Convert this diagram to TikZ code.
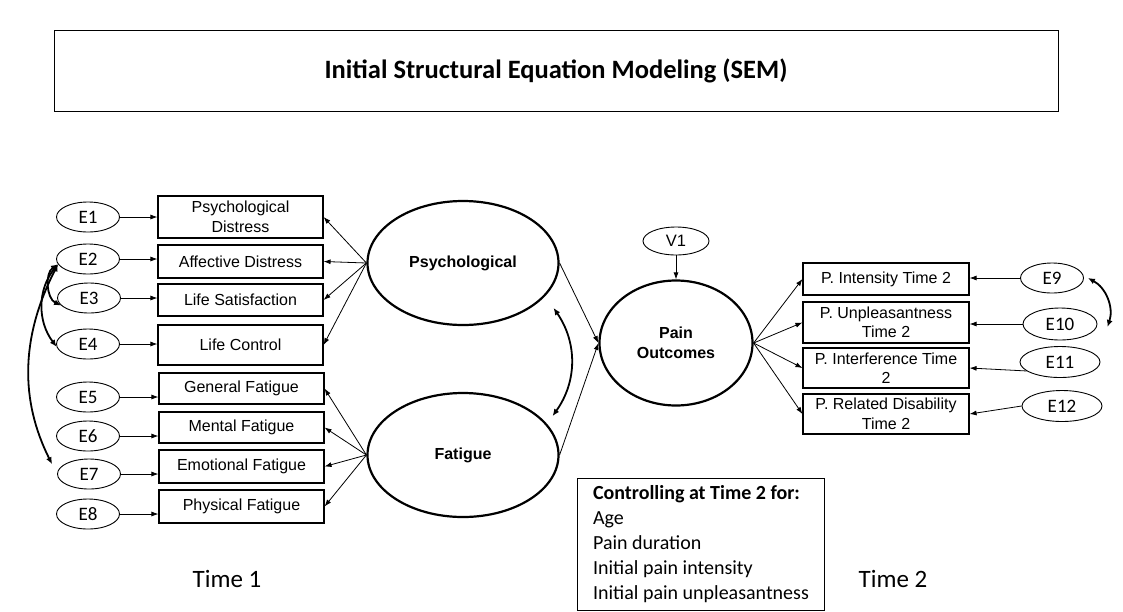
\documentclass[tikz,border=0pt]{standalone}
\usepackage{fontspec}
\usepackage{tikz}
\usetikzlibrary{arrows.meta,shapes.geometric,calc}
\newfontfamily\arialfont{Liberation Sans}
\newfontfamily\califont{Carlito}

\begin{document}
\begin{tikzpicture}
\tikzset{x={(1pt,0pt)}, y={(0pt,-1pt)}}
\tikzset{
  indic/.style={draw, line width=1.1pt, minimum width=165pt, inner sep=0pt, align=center,
    font=\arialfont\fontsize{16}{19.5}\selectfont},
  errvar/.style={draw, ellipse, line width=0.9pt, minimum width=63pt, minimum height=30pt,
    inner sep=0pt, font=\califont\fontsize{19}{22}\selectfont},
  latent/.style={draw, ellipse, line width=2.2pt, minimum width=191pt, minimum height=124pt,
    inner sep=0pt, align=center, font=\arialfont\bfseries\fontsize{16}{20}\selectfont},
  loading/.style={-{Latex[length=7pt,width=5pt]}, line width=0.8pt},
  cov/.style={{Latex[length=7pt,width=6pt]}-{Latex[length=7pt,width=6pt]}, line width=1.8pt},
}
\useasboundingbox (0,0) rectangle (1123,611);

\node[draw, line width=1pt, minimum width=1004pt, minimum height=81pt,
  font=\califont\bfseries\fontsize{26.5}{30}\selectfont] (title) at (556,70.5)
  {Initial Structural Equation Modeling (SEM)};

% Time 1 indicators
\node[indic, minimum height=42pt] (pd) at (240.5,217) {Psychological\\Distress};
\node[indic, minimum height=33pt] (ad) at (240.5,261.5) {Affective Distress};
\node[indic, minimum height=32pt] (ls) at (240.5,300) {Life Satisfaction};
\node[indic, minimum height=40pt] (lc) at (240.5,345) {Life Control};
\node[indic, minimum height=31pt] (gf) at (241.5,388.5) {General Fatigue};
\node[indic, minimum height=31pt] (mf) at (241.5,427.5) {Mental Fatigue};
\node[indic, minimum height=33pt] (ef) at (241.5,466.5) {Emotional Fatigue};
\node[indic, minimum height=33pt] (phf) at (241.5,506.5) {Physical Fatigue};

\node[errvar] (e1) at (88,217) {E1};
\node[errvar] (e2) at (88,259) {E2};
\node[errvar] (e3) at (89,298) {E3};
\node[errvar] (e4) at (88,344) {E4};
\node[errvar] (e5) at (88,397) {E5};
\node[errvar] (e6) at (88,436) {E6};
\node[errvar] (e7) at (89,474) {E7};
\node[errvar] (e8) at (88,514) {E8};

\node[latent] (psych) at (463,263) {Psychological};
\node[latent] (fat) at (463,455) {Fatigue};
\node[latent, minimum width=153pt, minimum height=125pt] (pain) at (676,343) {Pain\\Outcomes};
\node[draw, ellipse, line width=0.9pt, minimum width=66pt, minimum height=28pt, inner sep=0pt,
  font=\arialfont\fontsize{16.5}{20}\selectfont] (v1) at (676,241) {V1};

% Time 2 outcomes
\node[indic, minimum width=166pt, minimum height=32pt] (pi) at (886,279) {P. Intensity Time 2};
\node[indic, minimum width=166pt, minimum height=41pt] (pu) at (886,322.5) {P. Unpleasantness\\Time 2};
\node[indic, minimum width=166pt, minimum height=40pt] (pin) at (886,368) {P. Interference Time\\2};
\node[indic, minimum width=166pt, minimum height=40pt] (prd) at (886,414) {P. Related Disability\\Time 2};

\node[errvar] (e9) at (1052,278) {E9};
\node[errvar, minimum width=74pt, minimum height=32pt] (e10) at (1060,324) {E10};
\node[errvar, minimum width=80pt, minimum height=31pt] (e11) at (1060,362) {E11};
\node[errvar, minimum width=80pt, minimum height=31pt] (e12) at (1062,406) {E12};

\node[draw, line width=1pt, anchor=north west, minimum width=247pt, minimum height=132pt,
  inner xsep=9pt, inner ysep=4pt, align=left,
  font=\califont\fontsize{20}{25}\selectfont] (ctrl) at (577,478)
  {\textbf{Controlling at Time 2 for:}\\Age\\Pain duration\\Initial pain intensity\\Initial pain unpleasantness};

\node[font=\califont\fontsize{25}{28}\selectfont] (t1) at (227,579) {Time 1};
\node[font=\califont\fontsize{25}{28}\selectfont] (t2) at (893,579) {Time 2};

% errors into indicators
\foreach \e/\b in {e1/pd,e2/ad,e3/ls,e4/lc,e5/gf,e6/mf,e7/ef,e8/phf}
  \draw[loading] (\e.east) -- (\e.east -| \b.west);
\foreach \b in {pd,ad,ls,lc}
  \draw[loading] (psych.west) -- (\b.east);
\foreach \b in {gf,mf,ef,phf}
  \draw[loading] (fat.west) -- (\b.east);

\draw[loading] (psych.east) -- (pain.west);
\draw[loading] (fat.east) -- (pain.west);
\draw[loading] (v1.south) -- (pain.north);
\foreach \b in {pi,pu,pin,prd}
  \draw[loading] (pain.east) -- (\b.west);

\draw[loading] (e9.west) -- (e9.west -| pi.east);
\draw[loading] (e10.west) -- (e10.west -| pu.east);
\draw[loading] (e11.195) -- (pin.east);
\draw[loading] (e12.west) -- (prd.east);

% correlated errors
\draw[cov] (e2.190) to[bend right=60] (e3.195);
\draw[cov] (e2.190) to[bend right=38] (e4.185);
\draw[cov, shorten >=11pt] (e2.190) to[bend right=27] (e7.west);
\draw[cov] ($(psych.east)+(-6,45)$) to[bend left=35] ($(fat.east)+(-7,-39)$);
\draw[cov] ($(e9.east)+(4,0)$) to[bend left=40] ($(e10.east)+(10,3)$);
\end{tikzpicture}
\end{document}
